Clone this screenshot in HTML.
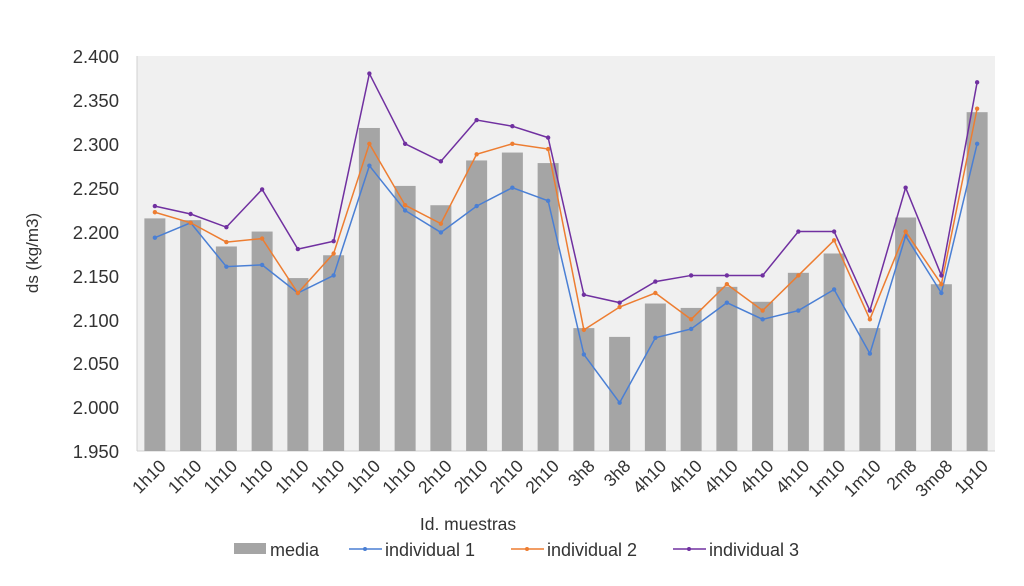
<!DOCTYPE html>
<html><head><meta charset="utf-8"><style>
body{margin:0;background:#fff;}
svg{display:block;font-family:"Liberation Sans",Arial,sans-serif;}
</style></head><body>
<svg id="c" width="1024" height="586" xmlns="http://www.w3.org/2000/svg">
<rect x="137" y="56" width="858" height="395" fill="#f0f0f0"/>
<line x1="137" y1="56" x2="137" y2="451" stroke="#d0d0d0"/>
<line x1="137" y1="451" x2="995" y2="451" stroke="#d0d0d0"/>
<g font-size="18.5" fill="#333" text-anchor="end">
<text x="119" y="63">2.400</text><text x="119" y="107">2.350</text><text x="119" y="151">2.300</text><text x="119" y="195">2.250</text><text x="119" y="239">2.200</text><text x="119" y="283">2.150</text><text x="119" y="327">2.100</text><text x="119" y="370">2.050</text><text x="119" y="414">2.000</text><text x="119" y="458">1.950</text>
</g>
<text transform="translate(38,253) rotate(-90)" font-size="17" fill="#333" text-anchor="middle">ds (kg/m3)</text>
<g id="bars"></g><g id="lines"></g>
<g id="xl" font-size="17.5" fill="#333" text-anchor="end">
<text>1h10</text><text>1h10</text><text>1h10</text><text>1h10</text><text>1h10</text><text>1h10</text><text>1h10</text><text>1h10</text><text>2h10</text><text>2h10</text><text>2h10</text><text>2h10</text><text>3h8</text><text>3h8</text><text>4h10</text><text>4h10</text><text>4h10</text><text>4h10</text><text>4h10</text><text>1m10</text><text>1m10</text><text>2m8</text><text>3mo8</text><text>1p10</text>
</g>
<text x="468" y="530" font-size="17.5" fill="#333" text-anchor="middle">Id. muestras</text>
<g font-size="18" fill="#333">
<rect x="234" y="543" width="32" height="11" fill="#a5a5a5"/><text x="270" y="556">media</text>
<line x1="349" y1="549" x2="382" y2="549" stroke="#4a7fd4" stroke-width="1.5"/><circle cx="365" cy="549" r="2" fill="#4a7fd4"/><text x="385" y="556">individual 1</text>
<line x1="511" y1="549" x2="544" y2="549" stroke="#ed7d31" stroke-width="1.5"/><circle cx="527" cy="549" r="2" fill="#ed7d31"/><text x="547" y="556">individual 2</text>
<line x1="673" y1="549" x2="706" y2="549" stroke="#7030a0" stroke-width="1.5"/><circle cx="689" cy="549" r="2" fill="#7030a0"/><text x="709" y="556">individual 3</text>
</g>
</svg>
<script>
var D=[[2.215,2.193,2.222,2.229],[2.213,2.210,2.210,2.220],[2.183,2.160,2.188,2.205],[2.200,2.162,2.192,2.248],[2.147,2.130,2.130,2.180],[2.173,2.150,2.175,2.189],[2.318,2.275,2.300,2.380],[2.252,2.224,2.230,2.300],[2.230,2.199,2.209,2.280],[2.281,2.229,2.288,2.327],[2.290,2.250,2.300,2.320],[2.278,2.235,2.294,2.307],[2.090,2.060,2.088,2.128],[2.080,2.005,2.114,2.119],[2.118,2.079,2.130,2.143],[2.113,2.089,2.100,2.150],[2.137,2.119,2.140,2.150],[2.120,2.100,2.110,2.150],[2.153,2.110,2.150,2.200],[2.175,2.134,2.190,2.200],[2.090,2.061,2.100,2.110],[2.216,2.195,2.200,2.250],[2.140,2.130,2.140,2.150],[2.336,2.300,2.340,2.370]];
var NS="http://www.w3.org/2000/svg";
function Y(v){return 451-(v-1.95)*877.8;}
function X(i){return 137+35.75*(i+0.5);}
var b=document.getElementById('bars'),l=document.getElementById('lines');
D.forEach(function(d,i){var r=document.createElementNS(NS,'rect');r.setAttribute('x',X(i)-10.5);r.setAttribute('width',21);r.setAttribute('y',Y(d[0]));r.setAttribute('height',451-Y(d[0]));r.setAttribute('fill','#a5a5a5');b.appendChild(r);});
var C=['#4a7fd4','#ed7d31','#7030a0'];
for(var s=1;s<=3;s++){var pts=D.map(function(d,i){return X(i)+','+Y(d[s]);}).join(' ');var p=document.createElementNS(NS,'polyline');p.setAttribute('points',pts);p.setAttribute('fill','none');p.setAttribute('stroke',C[s-1]);p.setAttribute('stroke-width','1.5');l.appendChild(p);
D.forEach(function(d,i){var c=document.createElementNS(NS,'circle');c.setAttribute('cx',X(i));c.setAttribute('cy',Y(d[s]));c.setAttribute('r',2.2);c.setAttribute('fill',C[s-1]);l.appendChild(c);});}
var t=document.getElementById('xl').children;
for(var i=0;i<t.length;i++){var x=X(i)+5,y=460;t[i].setAttribute('transform','translate('+x+','+y+') rotate(-45)');t[i].setAttribute('x',0);t[i].setAttribute('y',10);}
</script>
</body></html>
